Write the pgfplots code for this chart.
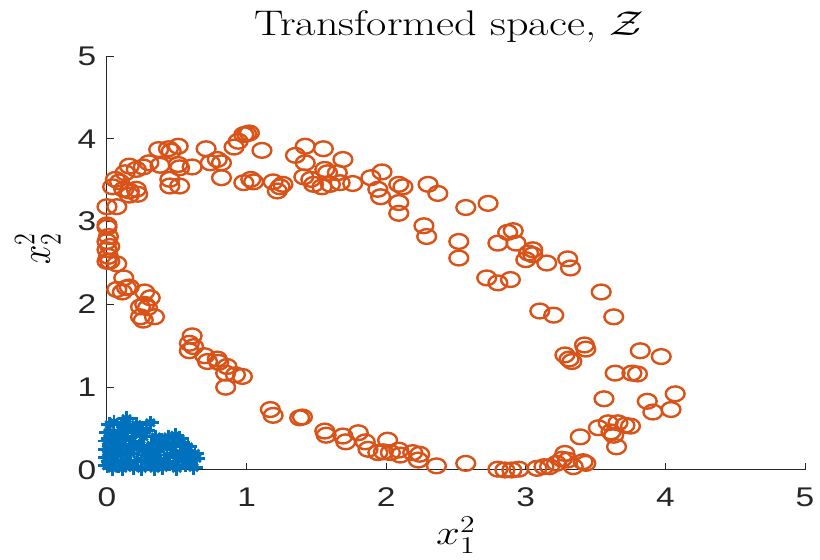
\documentclass[border=0pt]{standalone}
\usepackage{graphicx}
\usepackage{pgfplots}
\pgfplotsset{compat=1.18}
\usepackage{fontspec}
\newfontfamily\helv{Liberation Sans}
\definecolor{mblue}{rgb}{0,0.447,0.741}
\definecolor{morange}{rgb}{0.85,0.325,0.098}
\definecolor{maxis}{rgb}{0.15,0.15,0.15}
\newcommand\hs[1]{\scalebox{1.24}[1]{#1}}
\begin{document}
\begin{tikzpicture}
\useasboundingbox (-53.5pt,-45pt) rectangle (356.5pt,235pt);
\begin{axis}[
  at={(0,0)}, anchor=south west,
  scale only axis, width=349pt, height=207pt,
  xmin=0, xmax=5, ymin=0, ymax=5,
  xtick={0,1,2,3,4,5}, ytick={0,1,2,3,4,5},
  xticklabels={\hs{0},\hs{1},\hs{2},\hs{3},\hs{4},\hs{5}},
  yticklabels={\hs{0},\hs{1},\hs{2},\hs{3},\hs{4},\hs{5}},
  axis x line=bottom, axis y line=left,
  axis line style={-, maxis, line width=0.5pt},
  tick align=inside, major tick length=3.5pt,
  tick style={maxis, line width=0.5pt},
  ticklabel style={font=\helv\fontsize{13.5}{14}\selectfont, text=maxis},
  xticklabel style={yshift=-5.5pt},
  yticklabel style={xshift=-1.9pt},
  every axis title/.style={at={(axis description cs:0.49,1)}, anchor=base, yshift=10.5pt, font=\fontsize{17.8}{18}\selectfont},
  title={\hs{Transformed space, $\mathcal{Z}$}},
  xlabel={\hs{$x_1^2$}}, ylabel={\scalebox{1}[1.24]{$x_2^2$}},
  xlabel style={at={(axis description cs:0.5,0)}, anchor=base, yshift=-37.5pt, font=\fontsize{17.5}{18}\selectfont},
  ylabel style={at={(axis description cs:-0.0817,0.535)}, anchor=base, font=\fontsize{17.5}{18}\selectfont},
  clip=false,
]
% class 1 (blue asterisks) drawn as + and x overlay
\pgfplotstableread{
x y
0.00 0.05
0.00 0.15
0.00 0.25
0.00 0.35
0.01 0.45
0.02 0.55
0.02 0.10
0.03 0.30
0.04 0.02
0.04 0.20
0.05 0.40
0.05 0.58
0.06 0.12
0.07 0.28
0.08 0.05
0.08 0.45
0.09 0.35
0.10 0.18
0.10 0.55
0.11 0.02
0.12 0.40
0.13 0.28
0.14 0.62
0.14 0.10
0.15 0.50
0.17 0.20
0.18 0.35
0.19 0.03
0.20 0.45
0.21 0.55
0.22 0.12
0.24 0.30
0.25 0.02
0.26 0.40
0.27 0.18
0.28 0.48
0.30 0.08
0.31 0.57
0.32 0.30
0.33 0.15
0.34 0.02
0.35 0.40
0.37 0.10
0.38 0.25
0.39 0.36
0.40 0.03
0.42 0.33
0.43 0.18
0.45 0.08
0.47 0.28
0.49 0.42
0.50 0.02
0.51 0.15
0.53 0.33
0.55 0.22
0.56 0.06
0.58 0.28
0.60 0.12
0.62 0.03
0.63 0.20
0.64 0.14
0.52 0.38
0.44 0.40
0.02 0.38
0.06 0.22
0.11 0.48
0.16 0.08
0.19 0.27
0.23 0.50
0.29 0.24
0.36 0.18
0.41 0.10
0.48 0.20
0.54 0.12
0.59 0.20
}\blue
\addplot[only marks, mark=+, mark size=4.5pt, mark options={yscale=0.8, line width=1.4pt, color=mblue}] table {\blue};
\addplot[only marks, mark=x, mark size=3.2pt, mark options={yscale=0.8, line width=1.4pt, color=mblue}] table {\blue};
\addplot[only marks, mark=o, mark size=3.7pt, mark options={xscale=1.27, line width=1.2pt, color=morange}] table {
x y
0.00 3.18
0.07 3.18
0.04 3.42
0.06 3.51
0.09 3.48
0.12 3.39
0.16 3.37
0.21 3.39
0.22 3.33
0.16 3.32
0.13 3.59
0.16 3.67
0.21 3.63
0.26 3.66
0.30 3.71
0.38 3.68
0.37 3.87
0.44 3.88
0.46 3.85
0.51 3.91
0.51 3.69
0.52 3.65
0.61 3.66
0.45 3.51
0.52 3.43
0.45 3.43
0.71 3.88
0.74 3.71
0.79 3.75
0.82 3.71
0.82 3.53
0.91 3.90
0.94 3.97
0.98 4.05
1.00 4.06
1.02 4.07
1.11 3.86
0.98 3.47
1.03 3.51
1.05 3.48
1.19 3.48
1.24 3.42
1.22 3.37
1.26 3.45
1.35 3.80
1.42 3.91
1.55 3.88
1.42 3.71
1.41 3.54
1.46 3.51
1.48 3.45
1.54 3.42
1.56 3.63
1.58 3.59
1.60 3.45
1.65 3.59
1.67 3.47
1.69 3.75
1.76 3.46
1.89 3.53
1.97 3.60
1.94 3.39
1.96 3.30
2.09 3.45
2.12 3.42
2.09 3.23
2.09 3.10
2.30 3.45
2.37 3.34
2.57 3.17
2.73 3.22
2.27 2.95
2.29 2.82
2.52 2.76
2.52 2.56
2.80 2.74
2.87 2.87
2.91 2.89
2.93 2.74
3.05 2.66
3.02 2.62
3.05 2.60
3.00 2.54
3.15 2.50
3.30 2.55
3.32 2.44
3.54 2.15
2.72 2.32
2.80 2.26
2.89 2.30
3.10 1.92
3.20 1.87
3.63 1.85
3.28 1.39
3.31 1.34
3.33 1.31
3.42 1.51
3.43 1.46
3.82 1.44
3.97 1.37
3.64 1.17
3.76 1.17
3.80 1.16
3.56 0.86
3.87 0.83
3.91 0.70
4.04 0.73
4.07 0.92
3.39 0.40
3.52 0.51
3.59 0.57
3.61 0.46
3.63 0.42
3.66 0.57
3.71 0.54
3.75 0.53
3.65 0.28
0.00 2.96
0.00 2.93
0.01 2.82
0.00 2.76
0.02 2.70
0.00 2.66
0.01 2.58
0.02 2.52
0.07 2.49
0.00 2.52
0.12 2.32
0.07 2.18
0.11 2.15
0.14 2.20
0.16 2.21
0.27 2.15
0.31 2.08
0.24 1.97
0.27 2.00
0.29 1.96
0.34 1.85
0.26 1.81
0.24 1.85
0.61 1.62
0.59 1.53
0.62 1.49
0.59 1.44
0.70 1.38
0.72 1.31
0.80 1.30
0.79 1.34
0.86 1.25
0.85 1.17
0.92 1.15
0.97 1.13
0.85 1.00
1.17 0.73
1.19 0.66
1.38 0.63
1.40 0.64
1.56 0.47
1.57 0.42
1.69 0.41
1.71 0.34
1.80 0.45
1.85 0.34
1.87 0.25
1.94 0.21
2.01 0.36
1.98 0.22
2.03 0.21
2.09 0.24
2.10 0.18
2.19 0.21
2.24 0.19
2.23 0.12
2.36 0.05
2.57 0.08
2.80 0.01
2.85 0.00
2.90 0.00
2.95 0.01
3.08 0.02
3.13 0.04
3.17 0.04
3.22 0.08
3.26 0.13
3.28 0.20
3.30 0.12
3.34 0.04
3.41 0.10
3.43 0.08
};
\end{axis}
\end{tikzpicture}
\end{document}
